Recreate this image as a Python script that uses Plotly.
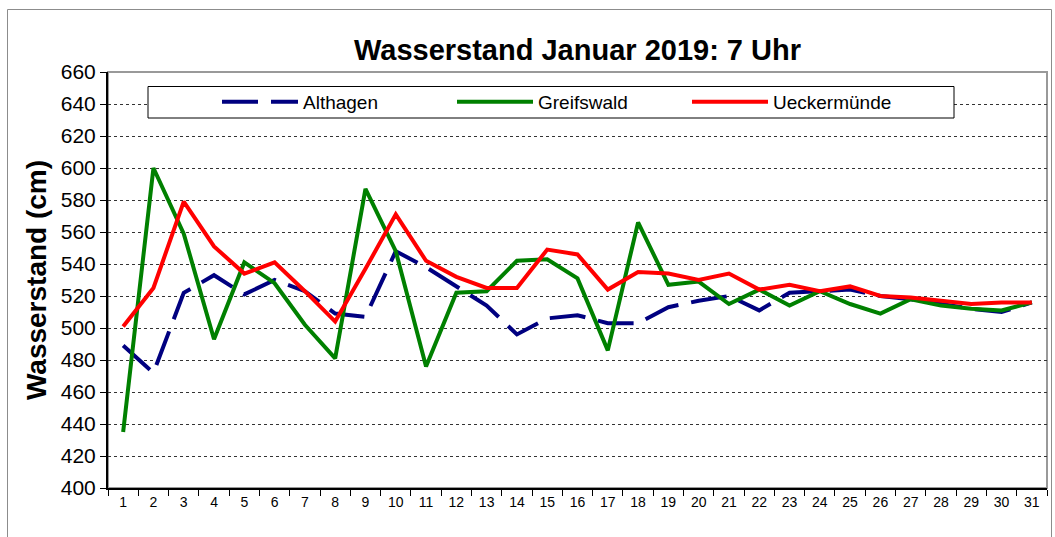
import plotly.graph_objects as go

days = [str(d) for d in range(1, 32)]
althagen = [489, 472, 522, 533, 521, 530, 523, 509, 507, 548, 538, 526, 514, 496, 506, 508,
            503, 503, 513, 517, 520, 511, 522, 523, 524, 520, 518, 515, 512, 510, 516]
greifswald = [435, 600, 559, 493, 541, 528, 502, 481, 587, 548, 476, 522, 523, 542, 543, 531,
              486, 566, 527, 529, 515, 524, 514, 523, 515, 509, 518, 514, 512, 511, 516]
ueckermuende = [501, 525, 579, 551, 534, 541, 523, 504, 537, 571, 542, 532, 525, 525, 549, 546,
                524, 535, 534, 530, 534, 524, 527, 523, 526, 520, 519, 517, 515, 516, 516]
y_ticks = list(range(400, 661, 20))

FONT = "Arial, 'Liberation Sans', sans-serif"
W, H = 1055, 537
L, R, T, B = 108, 8, 72, 49
pw, ph = W - L - R, H - T - B


def px_x(x):
    return (x - L) / pw


def px_y(y):
    return (H - B - y) / ph


fig = go.Figure()
fig.add_trace(go.Scatter(x=days, y=althagen, name="Althagen", mode="lines",
                         line=dict(color="#000080", width=4, dash="36px,13px")))
fig.add_trace(go.Scatter(x=days, y=greifswald, name="Greifswald", mode="lines",
                         line=dict(color="#008000", width=4)))
fig.add_trace(go.Scatter(x=days, y=ueckermuende, name="Ueckermünde", mode="lines",
                         line=dict(color="#FF0000", width=4)))

fig.update_layout(
    width=W, height=H,
    margin=dict(l=L, r=R, t=T, b=B, autoexpand=False),
    paper_bgcolor="white", plot_bgcolor="white",
    font=dict(family=FONT, color="black"),
    title=dict(text="<b>Wasserstand Januar 2019: 7 Uhr</b>", x=0.5, xref="paper",
               y=1 - 50 / H, yref="container", yanchor="middle", xanchor="center",
               font=dict(size=29, family=FONT, color="black")),
    showlegend=True,
    legend=dict(orientation="h", x=px_x(217), xanchor="left", y=px_y(102), yanchor="middle",
                bgcolor="rgba(0,0,0,0)", borderwidth=0, itemwidth=76, entrywidth=144,
                font=dict(size=19, family=FONT, color="black"), traceorder="normal"),
    xaxis=dict(type="category", range=[-0.5, 30.5], tickson="boundaries", ticks="outside",
               ticklen=6, tickcolor="black", showline=True, linecolor="black", linewidth=2,
               showgrid=False, zeroline=False, tickfont=dict(size=14, family=FONT, color="black"),
               fixedrange=True),
    yaxis=dict(range=[400, 660], tickvals=y_ticks, ticks="outside", ticklen=6, tickcolor="black",
               showline=True, linecolor="black", linewidth=2, showgrid=True, gridcolor="#333333",
               griddash="dot", gridwidth=1, zeroline=False,
               tickfont=dict(size=21, family=FONT, color="black"),
               title=dict(text="<b>Wasserstand (cm)</b>", standoff=6,
                          font=dict(size=28, family=FONT, color="black")),
               fixedrange=True),
    shapes=[
        # plot area border (grey top/right)
        dict(type="rect", xref="paper", yref="paper", x0=0, x1=1, y0=0, y1=1,
             line=dict(color="#999999", width=2), layer="below"),
        # outer chart border
        dict(type="rect", xref="paper", yref="paper", x0=px_x(7.5), x1=px_x(1051.5),
             y0=px_y(560), y1=px_y(9.5), line=dict(color="#8c8c8c", width=1), layer="below"),
        # legend box
        dict(type="rect", xref="paper", yref="paper", x0=px_x(148), x1=px_x(954),
             y0=px_y(118), y1=px_y(86.5), line=dict(color="black", width=1),
             fillcolor="white", layer="above"),
    ],
)

fig.write_html("out.html", config={"displayModeBar": False},
               post_script="document.body.style.margin='0';document.body.style.overflow='hidden';")
